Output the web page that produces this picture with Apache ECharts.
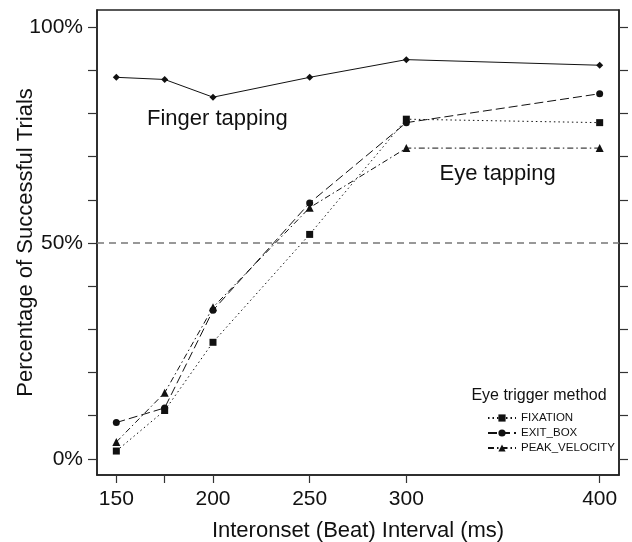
<!DOCTYPE html>
<html>
<head>
<meta charset="utf-8">
<script src="https://cdn.jsdelivr.net/npm/echarts@6/dist/echarts.min.js"></script>
<style>
html,body{margin:0;padding:0;background:#fff;}
#c{width:632px;height:542px;}
</style>
</head>
<body>
<div id="c"></div>
<script>
const intervals = [150, 175, 200, 250, 300, 400];
const xTickValues = [150, 175, 200, 250, 300, 400];
const xLabelValues = [150, 200, 250, 300, 400];
const yTickValues = [0, 10, 20, 30, 40, 50, 60, 70, 80, 90, 100];
const yLabelValues = [0, 50, 100];
const fingerTapping = [88.4, 87.9, 83.8, 88.4, 92.5, 91.2];
const fixation = [1.8, 11.2, 27.0, 52.0, 78.7, 77.9];
const exitBox = [8.4, 11.8, 34.4, 59.3, 77.9, 84.6];
const peakVelocity = [3.9, 15.3, 35.1, 58.2, 72.0, 72.0];
const referenceLevel = 50;

const FONT = 'Liberation Sans';
const pairs = arr => intervals.map((x, i) => [x, arr[i]]);

const chart = echarts.init(document.getElementById('c'), null, {renderer: 'canvas'});
chart.setOption({
  animation: false,
  backgroundColor: '#fff',
  textStyle: {fontFamily: FONT},
  grid: {left: 97, right: 13, top: 10, bottom: 67, show: true, borderColor: '#222', borderWidth: 1.5, containLabel: false, outerBoundsMode: 'none'},
  xAxis: {
    type: 'value', min: 140, max: 410,
    name: 'Interonset (Beat) Interval (ms)', nameLocation: 'middle', nameGap: 45, nameMoveOverlap: false,
    nameTextStyle: {fontFamily: FONT, fontSize: 22, color: '#111'},
    axisLine: {show: true, onZero: false, lineStyle: {color: '#222', width: 1.5}},
    axisTick: {show: true, length: 8, customValues: xTickValues, lineStyle: {color: '#333', width: 1.2}},
    axisLabel: {customValues: xLabelValues, fontFamily: FONT, fontSize: 21, color: '#111', margin: 14},
    splitLine: {show: false}
  },
  yAxis: [{
    type: 'value', min: -3.75, max: 104,
    name: 'Percentage of Successful Trials', nameLocation: 'middle', nameGap: 60, nameMoveOverlap: false,
    nameTextStyle: {fontFamily: FONT, fontSize: 22, color: '#111'},
    axisLine: {show: true, onZero: false, lineStyle: {color: '#222', width: 1.5}},
    axisTick: {show: true, length: 9, customValues: yTickValues, lineStyle: {color: '#333', width: 1.2}},
    axisLabel: {customValues: yLabelValues, formatter: v => v + '%', fontFamily: FONT, fontSize: 21, color: '#111', margin: 14},
    splitLine: {show: false}
  }, {
    type: 'value', min: -3.75, max: 104, position: 'right',
    axisLine: {show: true, onZero: false, lineStyle: {color: '#222', width: 1.5}},
    axisTick: {show: true, length: 9, customValues: yTickValues, lineStyle: {color: '#333', width: 1.2}},
    axisLabel: {show: false},
    splitLine: {show: false}
  }],
  legend: {
    orient: 'vertical', left: 482, top: 407,
    itemWidth: 28, itemHeight: 9, itemGap: 3,
    textStyle: {fontFamily: FONT, fontSize: 11.5, color: '#111'},
    data: ['FIXATION', 'EXIT_BOX', 'PEAK_VELOCITY']
  },
  graphic: [
    {type: 'text', x: 539, y: 396, style: {text: 'Eye trigger method', font: '16px "Liberation Sans"', fill: '#111', textAlign: 'center', textVerticalAlign: 'middle'}},
    {type: 'text', x: 147, y: 119, style: {text: 'Finger tapping', font: '22px "Liberation Sans"', fill: '#111', textAlign: 'left', textVerticalAlign: 'middle'}},
    {type: 'text', x: 439.5, y: 174, style: {text: 'Eye tapping', font: '22px "Liberation Sans"', fill: '#111', textAlign: 'left', textVerticalAlign: 'middle'}}
  ],
  series: [
    {
      name: 'Finger tapping', type: 'line', data: pairs(fingerTapping),
      symbol: 'diamond', symbolSize: 7, showAllSymbol: true,
      lineStyle: {color: '#111', width: 1, type: 'solid'},
      itemStyle: {color: '#111'},
      markLine: {
        silent: true, symbol: 'none', label: {show: false},
        lineStyle: {color: '#777', width: 1.5, type: [7, 5]},
        data: [{yAxis: referenceLevel}]
      }
    },
    {
      name: 'FIXATION', type: 'line', data: pairs(fixation),
      symbol: 'rect', symbolSize: 7, showAllSymbol: true,
      lineStyle: {color: '#111', width: 1, type: [1.5, 3]},
      itemStyle: {color: '#111'}
    },
    {
      name: 'EXIT_BOX', type: 'line', data: pairs(exitBox),
      symbol: 'circle', symbolSize: 7, showAllSymbol: true,
      lineStyle: {color: '#111', width: 1, type: [9, 4]},
      itemStyle: {color: '#111'}
    },
    {
      name: 'PEAK_VELOCITY', type: 'line', data: pairs(peakVelocity),
      symbol: 'triangle', symbolSize: 8, showAllSymbol: true,
      lineStyle: {color: '#111', width: 1, type: [6, 3, 1.5, 3]},
      itemStyle: {color: '#111'}
    }
  ]
});
</script>
</body>
</html>
